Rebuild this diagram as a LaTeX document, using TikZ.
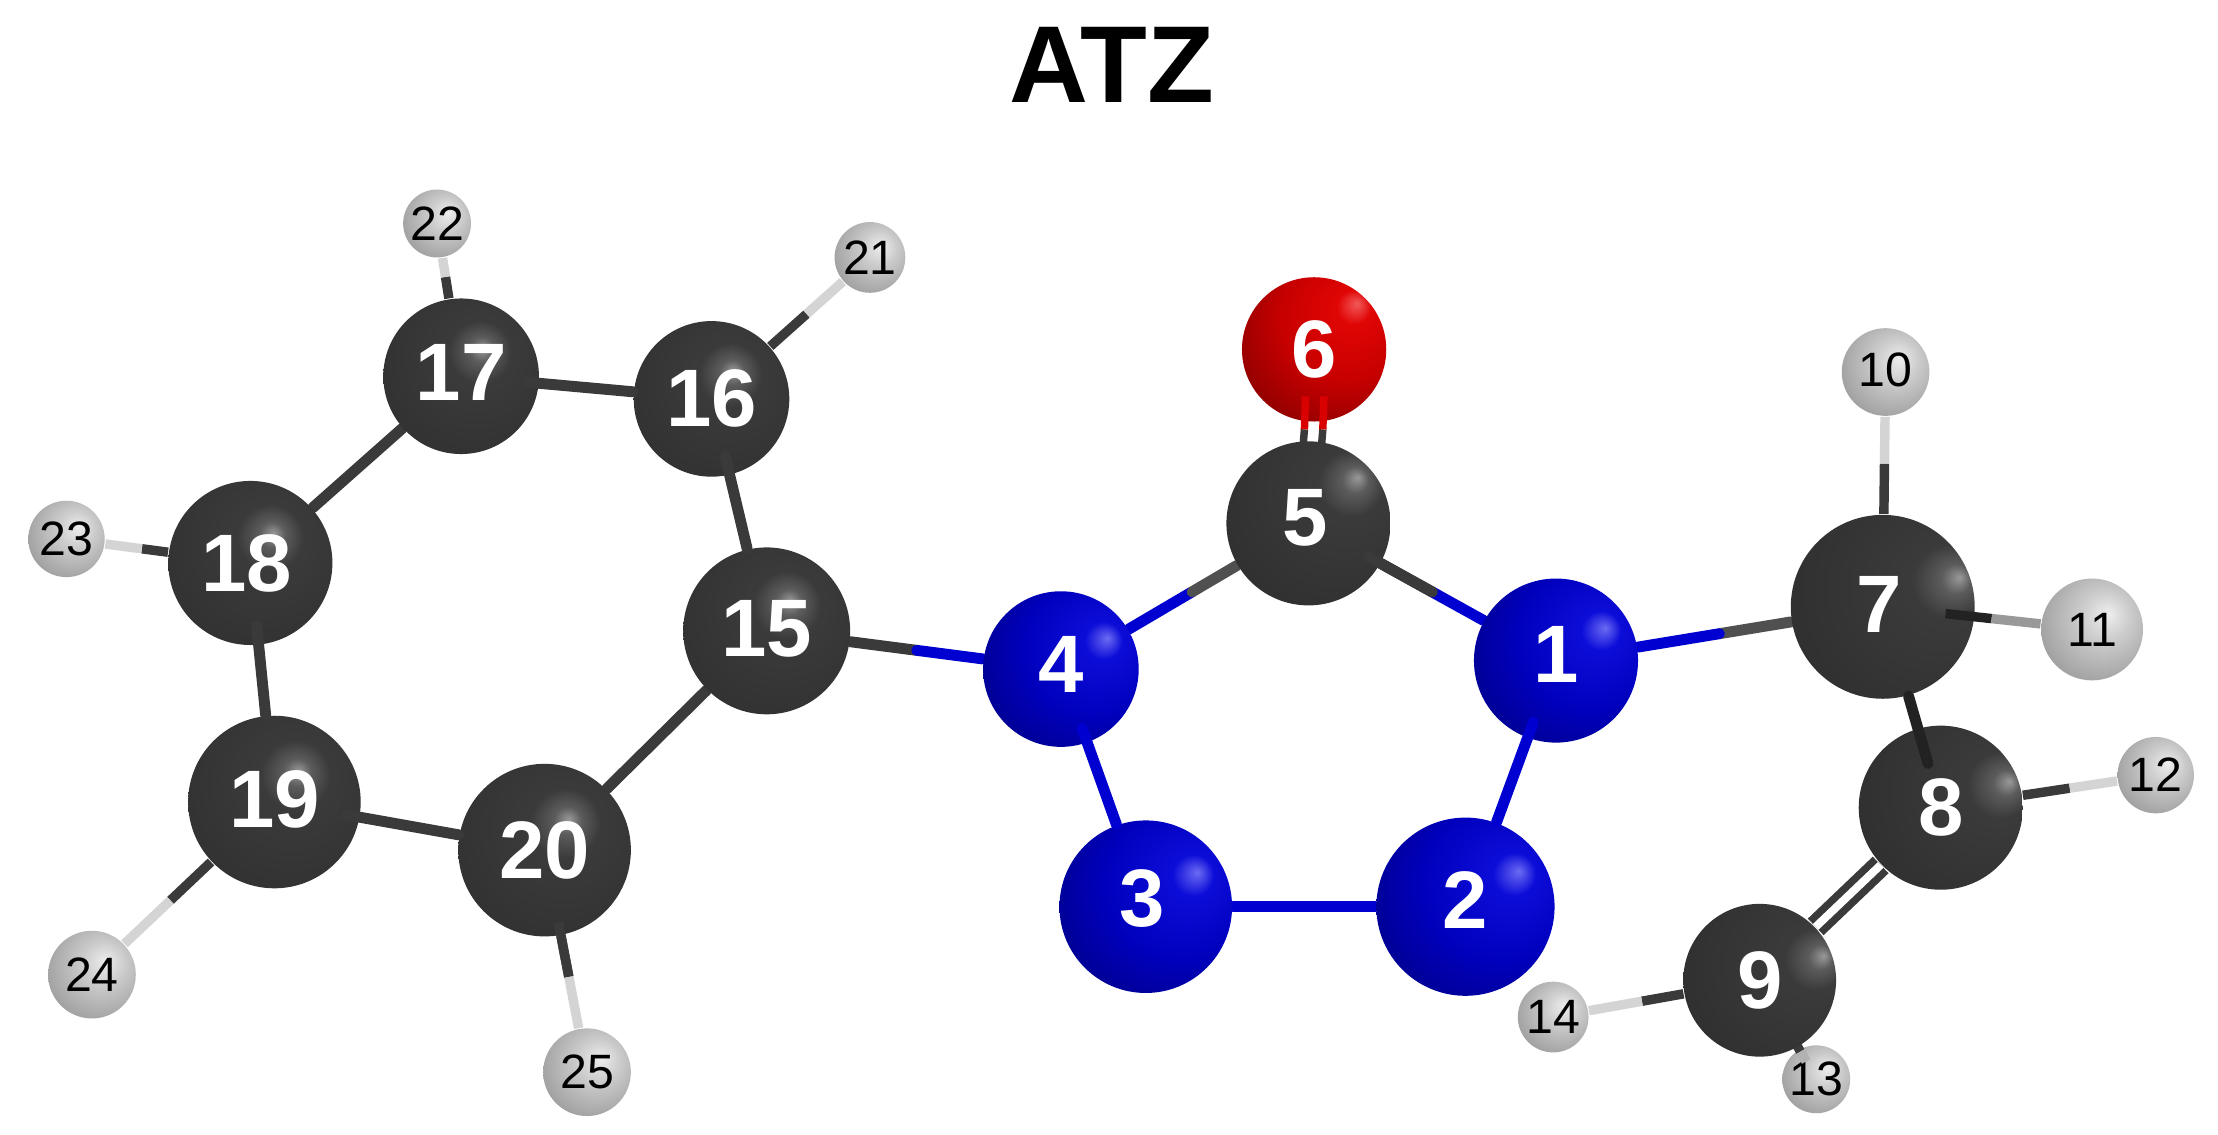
\documentclass[tikz,border=0pt]{standalone}
\usepackage{fontspec}
\setmainfont{Liberation Sans}
\usetikzlibrary{calc}
\pgfdeclarelayer{paper}
\pgfdeclarelayer{deep}
\pgfdeclarelayer{bonds}
\pgfdeclarelayer{front}
\pgfsetlayers{paper,deep,bonds,main,front}
% highlight position varies across the molecule
\newcommand{\carbonshade}[3]{\pgfdeclareradialshading{#1}{\pgfpoint{#2bp}{#3bp}}{rgb(0bp)=(.60,.60,.60); rgb(4bp)=(.36,.36,.36); rgb(10bp)=(.23,.23,.23); rgb(36bp)=(.19,.19,.19); rgb(50bp)=(.14,.14,.14); rgb(62bp)=(.08,.08,.08); rgb(75bp)=(.05,.05,.05)}}
\carbonshade{carbonL}{7}{9}
\carbonshade{carbonM}{15}{14}
\carbonshade{carbonR}{21}{8}
\pgfdeclareradialshading{nitroball}{\pgfpoint{15bp}{10bp}}{rgb(0bp)=(.42,.42,.95); rgb(6bp)=(.05,.05,.85); rgb(22bp)=(0,0,.74); rgb(42bp)=(0,0,.50); rgb(58bp)=(0,0,.25); rgb(70bp)=(0,0,.12)}
\pgfdeclareradialshading{oxyball}{\pgfpoint{15bp}{16bp}}{rgb(0bp)=(.95,.35,.35); rgb(6bp)=(.88,.02,.02); rgb(22bp)=(.78,0,0); rgb(42bp)=(.50,0,0); rgb(60bp)=(.24,0,0); rgb(72bp)=(.14,0,0)}
\pgfdeclareradialshading{hydroball}{\pgfpoint{8bp}{8bp}}{rgb(0bp)=(.93,.93,.93); rgb(12bp)=(.80,.80,.80); rgb(30bp)=(.64,.64,.64); rgb(48bp)=(.42,.42,.42); rgb(65bp)=(.25,.25,.25)}
\definecolor{cbond}{HTML}{3A3A3A}
\definecolor{cnbond}{HTML}{505050}
\definecolor{cover}{HTML}{222222}
\definecolor{nbond}{HTML}{0000D0}
\definecolor{hbond}{HTML}{D4D4D4}
\definecolor{obond}{HTML}{D80000}
\tikzset{
  x=0.1mm,y=-0.1mm,
  atom/.style={circle,inner sep=0pt,minimum size=#1*0.2mm},
  heavy/.style={text=white,font=\fontsize{16.4}{18}\selectfont\bfseries},
  carbonl/.style={atom=#1,heavy,shading=carbonL},
  carbonm/.style={atom=#1,heavy,shading=carbonM},
  carbonr/.style={atom=#1,heavy,shading=carbonR},
  nitro/.style={atom=#1,heavy,shading=nitroball},
  oxy/.style={atom=#1,heavy,shading=oxyball},
  hydro/.style={atom=#1,text=black,font=\fontsize{9.7}{12}\selectfont,shading=hydroball},
  lift/.style={text depth=#1*0.567pt},
  bondline/.style={line width=2.2pt,line cap=round},
  hline/.style={line width=1.9pt,line cap=butt},
  dbl/.style={line width=1.5pt},
  title/.style={font=\fontsize{22}{24}\selectfont\bfseries,text=black,inner sep=0pt},
}
\newcommand{\bondsplit}[6]{%
  \draw[#5,draw=#3] (#1) -- ($(#1)!#6!(#2)$);
  \draw[#5,draw=#4] (#2) -- ($(#1)!#6!(#2)$);
}
\begin{document}
\begin{tikzpicture}
\useasboundingbox (0,0) rectangle (1568,802.4);
\begin{pgfonlayer}{paper}
\fill[white] (0,0) rectangle (1568,802.4);
\end{pgfonlayer}
\node[title] (ttl) at (786,46) {ATZ};
% atoms
\node[nitro=58,lift=4] (a1) at (1100,467) {1};
\node[nitro=63,lift=5] (a2) at (1036,641) {2};
\node[nitro=61,lift=6] (a3) at (810,641) {3\kern1.5pt};
\node[nitro=55,lift=3] (a4) at (750,473) {4};
\node[carbonm=58,lift=4] (a5) at (925,370) {5\kern1.5pt};
\node[oxy=51] (a6) at (929,247) {6};
\node[carbonr=65,lift=2] (a7) at (1331,429) {7\kern1.5pt};
\node[carbonr=58] (a8) at (1372,571) {8};
\node[carbonr=54] (a9) at (1244,693) {9};
\node[hydro=31,lift=2] (a10) at (1333,263) {10};
\node[hydro=36] (a11) at (1479,445) {11};
\node[hydro=27] (a12) at (1524,548) {12};
\begin{pgfonlayer}{deep}
\node[hydro=24] (a13) at (1284,763) {13};
\end{pgfonlayer}
\node[hydro=25] (a14) at (1098,719) {14};
\node[carbonl=59,lift=2] (a15) at (542,446) {15};
\node[carbonl=55] (a16) at (503,282) {16};
\node[carbonl=55,lift=3] (a17) at (326,266) {17};
\node[carbonl=58] (a18) at (177,398) {18\kern1.5pt};
\node[carbonl=61,lift=2] (a19) at (194,567) {19};
\node[carbonl=61] (a20) at (385,601) {20};
\node[hydro=25] (a21) at (615,182) {21};
\node[hydro=24] (a22) at (309,158) {22};
\node[hydro=27] (a23) at (47,381) {23};
\node[hydro=31] (a24) at (65,689) {24};
\node[hydro=31] (a25) at (415,758) {25};
% bonds behind atoms
\begin{pgfonlayer}{bonds}
\bondsplit{a4}{a5}{nbond}{cnbond}{bondline}{.53}
\bondsplit{a1}{a5}{nbond}{cbond}{bondline}{.5}
\bondsplit{a15}{a4}{cbond}{nbond}{bondline}{.51}
\bondsplit{a7}{a1}{cnbond}{nbond}{bondline}{.5}
\draw[bondline,draw=nbond] (a2) -- (a3);
\draw[bondline,draw=cbond] (a17) -- (a18);
\draw[bondline,draw=cbond] (a20) -- (a15);
\bondsplit{a7}{a10}{cbond}{hbond}{hline}{.61}
\bondsplit{a8}{a12}{cbond}{hbond}{hline}{.6}
\bondsplit{a9}{a14}{cbond}{hbond}{hline}{.57}
\bondsplit{a17}{a22}{cbond}{hbond}{hline}{.65}
\bondsplit{a16}{a21}{cbond}{hbond}{hline}{.6}
\bondsplit{a18}{a23}{cbond}{hbond}{hline}{.59}
\bondsplit{a19}{a24}{cbond}{hbond}{hline}{.57}
\bondsplit{a20}{a25}{cbond}{hbond}{hline}{.57}
\draw[dbl,double=white,double distance=1.6pt,draw=cbond] (a8) -- (a9);
\draw[dbl,draw=cbond] ($(a5)+(-5,-40)$) -- ($(a5)!.54!(a6)+(-5,0)$);
\draw[dbl,draw=cbond] ($(a5)+(8,-40)$) -- ($(a5)!.54!(a6)+(8,0)$);
\end{pgfonlayer}
% bond to atom 13 lies over atom 13 and under atom 9
\begin{pgfonlayer}{deep}
\draw[hline,draw=cbond] (a9.center) -- ($(a9)!.72!(a13)$);
\draw[hline,draw=gray!60] ($(a9)!.72!(a13)$) -- ($(a9)!.82!(a13)$);
\end{pgfonlayer}
% bonds that reach over an atom
\begin{pgfonlayer}{front}
\draw[bondline,draw=nbond] (a2) -- ($(a2)!.75!(a1)$);
\draw[bondline,draw=nbond] (a3) -- ($(a3)!.75!(a4)$);
\draw[bondline,draw=cover] (a7) -- ($(a7)!.78!(a8)$);
\draw[bondline,draw=cbond] (a15) -- ($(a15)!.75!(a16)$);
\draw[bondline,draw=cbond] (a19) -- ($(a19)!.74!(a18)$);
\draw[bondline,draw=cbond] (a20) -- ($(a20)!.733!(a19)$);
\draw[bondline,draw=cbond] (a16) -- ($(a16)!.73!(a17)$);
\draw[bondline,draw=cbond] ($(a1)!.5!(a5)$) -- ($(a1)!.755!(a5)$);
\draw[hline,draw=cbond] ($(a20)!.57!(a25)$) -- ($(a20)!.325!(a25)$);
\draw[hline,draw=cover] ($(a7)!.3!(a11)$) -- ($(a7)!.52!(a11)$);
\draw[hline,draw=gray!80] (a11) -- ($(a7)!.52!(a11)$);
\draw[dbl,draw=obond] ($(a5)!.54!(a6)+(-5,0)$) -- ($(a5)!.73!(a6)+(-5,0)$);
\draw[dbl,draw=obond] ($(a5)!.54!(a6)+(8,0)$) -- ($(a5)!.73!(a6)+(8,0)$);
\end{pgfonlayer}
\end{tikzpicture}
\end{document}
